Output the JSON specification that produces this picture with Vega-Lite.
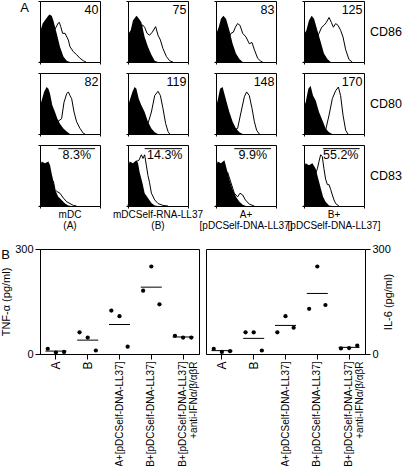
{
  "$schema": "https://vega.github.io/schema/vega-lite/v6.json",
  "padding": {"left": 0, "top": 0, "right": 0, "bottom": 0},
  "config": {
    "font": "Liberation Sans",
    "view": {"stroke": "black", "strokeWidth": 1},
    "axis": {"domainColor": "black", "tickColor": "black", "labelColor": "black", "titleColor": "black", "grid": false},
    "header": {"labelColor": "black", "titleColor": "black"}
  },
  "datasets": {
    "hist": [
      {"m":"CD86","c":"mDC\n(A)","s":"ctrl","x":0,"y":49},{"m":"CD86","c":"mDC\n(A)","s":"ctrl","x":0.18,"y":63},{"m":"CD86","c":"mDC\n(A)","s":"ctrl","x":0.4,"y":71},{"m":"CD86","c":"mDC\n(A)","s":"ctrl","x":0.62,"y":78},{"m":"CD86","c":"mDC\n(A)","s":"ctrl","x":0.78,"y":76},{"m":"CD86","c":"mDC\n(A)","s":"ctrl","x":0.89,"y":68},{"m":"CD86","c":"mDC\n(A)","s":"ctrl","x":1.11,"y":47},{"m":"CD86","c":"mDC\n(A)","s":"ctrl","x":1.33,"y":25},{"m":"CD86","c":"mDC\n(A)","s":"ctrl","x":1.56,"y":9},{"m":"CD86","c":"mDC\n(A)","s":"ctrl","x":1.78,"y":2},{"m":"CD86","c":"mDC\n(A)","s":"ctrl","x":2,"y":0},
      {"m":"CD86","c":"mDC\n(A)","s":"stain","x":0,"y":0},{"m":"CD86","c":"mDC\n(A)","s":"stain","x":0.89,"y":49},{"m":"CD86","c":"mDC\n(A)","s":"stain","x":1.22,"y":64},{"m":"CD86","c":"mDC\n(A)","s":"stain","x":1.29,"y":65},{"m":"CD86","c":"mDC\n(A)","s":"stain","x":1.38,"y":58},{"m":"CD86","c":"mDC\n(A)","s":"stain","x":1.51,"y":47},{"m":"CD86","c":"mDC\n(A)","s":"stain","x":1.67,"y":47},{"m":"CD86","c":"mDC\n(A)","s":"stain","x":1.89,"y":36},{"m":"CD86","c":"mDC\n(A)","s":"stain","x":2.0,"y":25},{"m":"CD86","c":"mDC\n(A)","s":"stain","x":2.22,"y":17},{"m":"CD86","c":"mDC\n(A)","s":"stain","x":2.44,"y":12},{"m":"CD86","c":"mDC\n(A)","s":"stain","x":2.67,"y":6},{"m":"CD86","c":"mDC\n(A)","s":"stain","x":2.89,"y":2},{"m":"CD86","c":"mDC\n(A)","s":"stain","x":3.07,"y":0},
      {"m":"CD86","c":"mDC\n(A)","s":"mfi","t":"40"},

      {"m":"CD86","c":"mDCSelf-RNA-LL37\n(B)","s":"ctrl","x":0,"y":45},{"m":"CD86","c":"mDCSelf-RNA-LL37\n(B)","s":"ctrl","x":0.18,"y":52},{"m":"CD86","c":"mDCSelf-RNA-LL37\n(B)","s":"ctrl","x":0.33,"y":68},{"m":"CD86","c":"mDCSelf-RNA-LL37\n(B)","s":"ctrl","x":0.56,"y":76},{"m":"CD86","c":"mDCSelf-RNA-LL37\n(B)","s":"ctrl","x":0.67,"y":73},{"m":"CD86","c":"mDCSelf-RNA-LL37\n(B)","s":"ctrl","x":0.89,"y":65},{"m":"CD86","c":"mDCSelf-RNA-LL37\n(B)","s":"ctrl","x":1.11,"y":41},{"m":"CD86","c":"mDCSelf-RNA-LL37\n(B)","s":"ctrl","x":1.33,"y":25},{"m":"CD86","c":"mDCSelf-RNA-LL37\n(B)","s":"ctrl","x":1.56,"y":12},{"m":"CD86","c":"mDCSelf-RNA-LL37\n(B)","s":"ctrl","x":1.78,"y":2},{"m":"CD86","c":"mDCSelf-RNA-LL37\n(B)","s":"ctrl","x":2.0,"y":0},
      {"m":"CD86","c":"mDCSelf-RNA-LL37\n(B)","s":"stain","x":0,"y":0},{"m":"CD86","c":"mDCSelf-RNA-LL37\n(B)","s":"stain","x":0.89,"y":55},{"m":"CD86","c":"mDCSelf-RNA-LL37\n(B)","s":"stain","x":0.96,"y":61},{"m":"CD86","c":"mDCSelf-RNA-LL37\n(B)","s":"stain","x":1.11,"y":57},{"m":"CD86","c":"mDCSelf-RNA-LL37\n(B)","s":"stain","x":1.27,"y":47},{"m":"CD86","c":"mDCSelf-RNA-LL37\n(B)","s":"stain","x":1.44,"y":44},{"m":"CD86","c":"mDCSelf-RNA-LL37\n(B)","s":"stain","x":1.62,"y":49},{"m":"CD86","c":"mDCSelf-RNA-LL37\n(B)","s":"stain","x":1.84,"y":58},{"m":"CD86","c":"mDCSelf-RNA-LL37\n(B)","s":"stain","x":2.0,"y":44},{"m":"CD86","c":"mDCSelf-RNA-LL37\n(B)","s":"stain","x":2.16,"y":36},{"m":"CD86","c":"mDCSelf-RNA-LL37\n(B)","s":"stain","x":2.33,"y":22},{"m":"CD86","c":"mDCSelf-RNA-LL37\n(B)","s":"stain","x":2.56,"y":9},{"m":"CD86","c":"mDCSelf-RNA-LL37\n(B)","s":"stain","x":2.78,"y":2},{"m":"CD86","c":"mDCSelf-RNA-LL37\n(B)","s":"stain","x":3.0,"y":0},
      {"m":"CD86","c":"mDCSelf-RNA-LL37\n(B)","s":"mfi","t":"75"},

      {"m":"CD86","c":"A+\n[pDCSelf-DNA-LL37]","s":"ctrl","x":0,"y":45},{"m":"CD86","c":"A+\n[pDCSelf-DNA-LL37]","s":"ctrl","x":0.18,"y":57},{"m":"CD86","c":"A+\n[pDCSelf-DNA-LL37]","s":"ctrl","x":0.33,"y":71},{"m":"CD86","c":"A+\n[pDCSelf-DNA-LL37]","s":"ctrl","x":0.49,"y":76},{"m":"CD86","c":"A+\n[pDCSelf-DNA-LL37]","s":"ctrl","x":0.67,"y":71},{"m":"CD86","c":"A+\n[pDCSelf-DNA-LL37]","s":"ctrl","x":0.89,"y":52},{"m":"CD86","c":"A+\n[pDCSelf-DNA-LL37]","s":"ctrl","x":1.11,"y":30},{"m":"CD86","c":"A+\n[pDCSelf-DNA-LL37]","s":"ctrl","x":1.33,"y":14},{"m":"CD86","c":"A+\n[pDCSelf-DNA-LL37]","s":"ctrl","x":1.56,"y":5},{"m":"CD86","c":"A+\n[pDCSelf-DNA-LL37]","s":"ctrl","x":1.78,"y":0},
      {"m":"CD86","c":"A+\n[pDCSelf-DNA-LL37]","s":"stain","x":0,"y":0},{"m":"CD86","c":"A+\n[pDCSelf-DNA-LL37]","s":"stain","x":1.0,"y":47},{"m":"CD86","c":"A+\n[pDCSelf-DNA-LL37]","s":"stain","x":1.16,"y":49},{"m":"CD86","c":"A+\n[pDCSelf-DNA-LL37]","s":"stain","x":1.29,"y":57},{"m":"CD86","c":"A+\n[pDCSelf-DNA-LL37]","s":"stain","x":1.44,"y":63},{"m":"CD86","c":"A+\n[pDCSelf-DNA-LL37]","s":"stain","x":1.6,"y":60},{"m":"CD86","c":"A+\n[pDCSelf-DNA-LL37]","s":"stain","x":1.78,"y":47},{"m":"CD86","c":"A+\n[pDCSelf-DNA-LL37]","s":"stain","x":2.0,"y":41},{"m":"CD86","c":"A+\n[pDCSelf-DNA-LL37]","s":"stain","x":2.22,"y":30},{"m":"CD86","c":"A+\n[pDCSelf-DNA-LL37]","s":"stain","x":2.4,"y":32},{"m":"CD86","c":"A+\n[pDCSelf-DNA-LL37]","s":"stain","x":2.56,"y":20},{"m":"CD86","c":"A+\n[pDCSelf-DNA-LL37]","s":"stain","x":2.78,"y":6},{"m":"CD86","c":"A+\n[pDCSelf-DNA-LL37]","s":"stain","x":3.0,"y":1},{"m":"CD86","c":"A+\n[pDCSelf-DNA-LL37]","s":"stain","x":3.11,"y":0},
      {"m":"CD86","c":"A+\n[pDCSelf-DNA-LL37]","s":"mfi","t":"83"},

      {"m":"CD86","c":"B+\n[pDCSelf-DNA-LL37]","s":"ctrl","x":0,"y":45},{"m":"CD86","c":"B+\n[pDCSelf-DNA-LL37]","s":"ctrl","x":0.16,"y":52},{"m":"CD86","c":"B+\n[pDCSelf-DNA-LL37]","s":"ctrl","x":0.33,"y":68},{"m":"CD86","c":"B+\n[pDCSelf-DNA-LL37]","s":"ctrl","x":0.51,"y":76},{"m":"CD86","c":"B+\n[pDCSelf-DNA-LL37]","s":"ctrl","x":0.67,"y":71},{"m":"CD86","c":"B+\n[pDCSelf-DNA-LL37]","s":"ctrl","x":0.89,"y":52},{"m":"CD86","c":"B+\n[pDCSelf-DNA-LL37]","s":"ctrl","x":1.11,"y":33},{"m":"CD86","c":"B+\n[pDCSelf-DNA-LL37]","s":"ctrl","x":1.33,"y":14},{"m":"CD86","c":"B+\n[pDCSelf-DNA-LL37]","s":"ctrl","x":1.56,"y":5},{"m":"CD86","c":"B+\n[pDCSelf-DNA-LL37]","s":"ctrl","x":1.78,"y":0},
      {"m":"CD86","c":"B+\n[pDCSelf-DNA-LL37]","s":"stain","x":0,"y":0},{"m":"CD86","c":"B+\n[pDCSelf-DNA-LL37]","s":"stain","x":1.0,"y":47},{"m":"CD86","c":"B+\n[pDCSelf-DNA-LL37]","s":"stain","x":1.18,"y":57},{"m":"CD86","c":"B+\n[pDCSelf-DNA-LL37]","s":"stain","x":1.33,"y":60},{"m":"CD86","c":"B+\n[pDCSelf-DNA-LL37]","s":"stain","x":1.49,"y":65},{"m":"CD86","c":"B+\n[pDCSelf-DNA-LL37]","s":"stain","x":1.67,"y":73},{"m":"CD86","c":"B+\n[pDCSelf-DNA-LL37]","s":"stain","x":1.82,"y":65},{"m":"CD86","c":"B+\n[pDCSelf-DNA-LL37]","s":"stain","x":1.96,"y":57},{"m":"CD86","c":"B+\n[pDCSelf-DNA-LL37]","s":"stain","x":2.11,"y":63},{"m":"CD86","c":"B+\n[pDCSelf-DNA-LL37]","s":"stain","x":2.27,"y":60},{"m":"CD86","c":"B+\n[pDCSelf-DNA-LL37]","s":"stain","x":2.44,"y":52},{"m":"CD86","c":"B+\n[pDCSelf-DNA-LL37]","s":"stain","x":2.6,"y":41},{"m":"CD86","c":"B+\n[pDCSelf-DNA-LL37]","s":"stain","x":2.78,"y":20},{"m":"CD86","c":"B+\n[pDCSelf-DNA-LL37]","s":"stain","x":3.0,"y":4},{"m":"CD86","c":"B+\n[pDCSelf-DNA-LL37]","s":"stain","x":3.22,"y":0},
      {"m":"CD86","c":"B+\n[pDCSelf-DNA-LL37]","s":"mfi","t":"125"},

      {"m":"CD80","c":"mDC\n(A)","s":"ctrl","x":0,"y":45},{"m":"CD80","c":"mDC\n(A)","s":"ctrl","x":0.11,"y":55},{"m":"CD80","c":"mDC\n(A)","s":"ctrl","x":0.27,"y":69},{"m":"CD80","c":"mDC\n(A)","s":"ctrl","x":0.44,"y":77},{"m":"CD80","c":"mDC\n(A)","s":"ctrl","x":0.56,"y":74},{"m":"CD80","c":"mDC\n(A)","s":"ctrl","x":0.67,"y":66},{"m":"CD80","c":"mDC\n(A)","s":"ctrl","x":0.82,"y":47},{"m":"CD80","c":"mDC\n(A)","s":"ctrl","x":1.0,"y":36},{"m":"CD80","c":"mDC\n(A)","s":"ctrl","x":1.16,"y":25},{"m":"CD80","c":"mDC\n(A)","s":"ctrl","x":1.33,"y":17},{"m":"CD80","c":"mDC\n(A)","s":"ctrl","x":1.56,"y":9},{"m":"CD80","c":"mDC\n(A)","s":"ctrl","x":1.78,"y":4},{"m":"CD80","c":"mDC\n(A)","s":"ctrl","x":2.0,"y":0},
      {"m":"CD80","c":"mDC\n(A)","s":"stain","x":0,"y":0},{"m":"CD80","c":"mDC\n(A)","s":"stain","x":1.44,"y":25},{"m":"CD80","c":"mDC\n(A)","s":"stain","x":1.6,"y":52},{"m":"CD80","c":"mDC\n(A)","s":"stain","x":1.78,"y":66},{"m":"CD80","c":"mDC\n(A)","s":"stain","x":1.89,"y":69},{"m":"CD80","c":"mDC\n(A)","s":"stain","x":2.0,"y":63},{"m":"CD80","c":"mDC\n(A)","s":"stain","x":2.11,"y":58},{"m":"CD80","c":"mDC\n(A)","s":"stain","x":2.27,"y":36},{"m":"CD80","c":"mDC\n(A)","s":"stain","x":2.44,"y":20},{"m":"CD80","c":"mDC\n(A)","s":"stain","x":2.67,"y":9},{"m":"CD80","c":"mDC\n(A)","s":"stain","x":2.89,"y":1},{"m":"CD80","c":"mDC\n(A)","s":"stain","x":3.0,"y":0},
      {"m":"CD80","c":"mDC\n(A)","s":"mfi","t":"82"},

      {"m":"CD80","c":"mDCSelf-RNA-LL37\n(B)","s":"ctrl","x":0,"y":45},{"m":"CD80","c":"mDCSelf-RNA-LL37\n(B)","s":"ctrl","x":0.11,"y":55},{"m":"CD80","c":"mDCSelf-RNA-LL37\n(B)","s":"ctrl","x":0.29,"y":69},{"m":"CD80","c":"mDCSelf-RNA-LL37\n(B)","s":"ctrl","x":0.44,"y":77},{"m":"CD80","c":"mDCSelf-RNA-LL37\n(B)","s":"ctrl","x":0.56,"y":74},{"m":"CD80","c":"mDCSelf-RNA-LL37\n(B)","s":"ctrl","x":0.71,"y":58},{"m":"CD80","c":"mDCSelf-RNA-LL37\n(B)","s":"ctrl","x":0.89,"y":47},{"m":"CD80","c":"mDCSelf-RNA-LL37\n(B)","s":"ctrl","x":1.11,"y":36},{"m":"CD80","c":"mDCSelf-RNA-LL37\n(B)","s":"ctrl","x":1.33,"y":20},{"m":"CD80","c":"mDCSelf-RNA-LL37\n(B)","s":"ctrl","x":1.56,"y":9},{"m":"CD80","c":"mDCSelf-RNA-LL37\n(B)","s":"ctrl","x":1.78,"y":3},{"m":"CD80","c":"mDCSelf-RNA-LL37\n(B)","s":"ctrl","x":2.0,"y":0},
      {"m":"CD80","c":"mDCSelf-RNA-LL37\n(B)","s":"stain","x":0,"y":0},{"m":"CD80","c":"mDCSelf-RNA-LL37\n(B)","s":"stain","x":1.33,"y":17},{"m":"CD80","c":"mDCSelf-RNA-LL37\n(B)","s":"stain","x":1.56,"y":36},{"m":"CD80","c":"mDCSelf-RNA-LL37\n(B)","s":"stain","x":1.78,"y":63},{"m":"CD80","c":"mDCSelf-RNA-LL37\n(B)","s":"stain","x":2.0,"y":70},{"m":"CD80","c":"mDCSelf-RNA-LL37\n(B)","s":"stain","x":2.16,"y":63},{"m":"CD80","c":"mDCSelf-RNA-LL37\n(B)","s":"stain","x":2.33,"y":42},{"m":"CD80","c":"mDCSelf-RNA-LL37\n(B)","s":"stain","x":2.51,"y":17},{"m":"CD80","c":"mDCSelf-RNA-LL37\n(B)","s":"stain","x":2.67,"y":4},{"m":"CD80","c":"mDCSelf-RNA-LL37\n(B)","s":"stain","x":2.78,"y":0},
      {"m":"CD80","c":"mDCSelf-RNA-LL37\n(B)","s":"mfi","t":"119"},

      {"m":"CD80","c":"A+\n[pDCSelf-DNA-LL37]","s":"ctrl","x":0,"y":45},{"m":"CD80","c":"A+\n[pDCSelf-DNA-LL37]","s":"ctrl","x":0.11,"y":55},{"m":"CD80","c":"A+\n[pDCSelf-DNA-LL37]","s":"ctrl","x":0.27,"y":74},{"m":"CD80","c":"A+\n[pDCSelf-DNA-LL37]","s":"ctrl","x":0.44,"y":77},{"m":"CD80","c":"A+\n[pDCSelf-DNA-LL37]","s":"ctrl","x":0.56,"y":66},{"m":"CD80","c":"A+\n[pDCSelf-DNA-LL37]","s":"ctrl","x":0.71,"y":52},{"m":"CD80","c":"A+\n[pDCSelf-DNA-LL37]","s":"ctrl","x":0.89,"y":36},{"m":"CD80","c":"A+\n[pDCSelf-DNA-LL37]","s":"ctrl","x":1.11,"y":20},{"m":"CD80","c":"A+\n[pDCSelf-DNA-LL37]","s":"ctrl","x":1.33,"y":9},{"m":"CD80","c":"A+\n[pDCSelf-DNA-LL37]","s":"ctrl","x":1.56,"y":3},{"m":"CD80","c":"A+\n[pDCSelf-DNA-LL37]","s":"ctrl","x":1.78,"y":0},
      {"m":"CD80","c":"A+\n[pDCSelf-DNA-LL37]","s":"stain","x":0,"y":0},{"m":"CD80","c":"A+\n[pDCSelf-DNA-LL37]","s":"stain","x":1.44,"y":9},{"m":"CD80","c":"A+\n[pDCSelf-DNA-LL37]","s":"stain","x":1.67,"y":36},{"m":"CD80","c":"A+\n[pDCSelf-DNA-LL37]","s":"stain","x":1.89,"y":61},{"m":"CD80","c":"A+\n[pDCSelf-DNA-LL37]","s":"stain","x":2.04,"y":69},{"m":"CD80","c":"A+\n[pDCSelf-DNA-LL37]","s":"stain","x":2.22,"y":63},{"m":"CD80","c":"A+\n[pDCSelf-DNA-LL37]","s":"stain","x":2.4,"y":42},{"m":"CD80","c":"A+\n[pDCSelf-DNA-LL37]","s":"stain","x":2.56,"y":20},{"m":"CD80","c":"A+\n[pDCSelf-DNA-LL37]","s":"stain","x":2.71,"y":6},{"m":"CD80","c":"A+\n[pDCSelf-DNA-LL37]","s":"stain","x":2.89,"y":0},
      {"m":"CD80","c":"A+\n[pDCSelf-DNA-LL37]","s":"mfi","t":"148"},

      {"m":"CD80","c":"B+\n[pDCSelf-DNA-LL37]","s":"ctrl","x":0,"y":45},{"m":"CD80","c":"B+\n[pDCSelf-DNA-LL37]","s":"ctrl","x":0.11,"y":52},{"m":"CD80","c":"B+\n[pDCSelf-DNA-LL37]","s":"ctrl","x":0.29,"y":74},{"m":"CD80","c":"B+\n[pDCSelf-DNA-LL37]","s":"ctrl","x":0.44,"y":79},{"m":"CD80","c":"B+\n[pDCSelf-DNA-LL37]","s":"ctrl","x":0.6,"y":63},{"m":"CD80","c":"B+\n[pDCSelf-DNA-LL37]","s":"ctrl","x":0.78,"y":55},{"m":"CD80","c":"B+\n[pDCSelf-DNA-LL37]","s":"ctrl","x":1.0,"y":36},{"m":"CD80","c":"B+\n[pDCSelf-DNA-LL37]","s":"ctrl","x":1.22,"y":23},{"m":"CD80","c":"B+\n[pDCSelf-DNA-LL37]","s":"ctrl","x":1.44,"y":9},{"m":"CD80","c":"B+\n[pDCSelf-DNA-LL37]","s":"ctrl","x":1.67,"y":3},{"m":"CD80","c":"B+\n[pDCSelf-DNA-LL37]","s":"ctrl","x":1.89,"y":0},
      {"m":"CD80","c":"B+\n[pDCSelf-DNA-LL37]","s":"stain","x":0,"y":0},{"m":"CD80","c":"B+\n[pDCSelf-DNA-LL37]","s":"stain","x":1.44,"y":6},{"m":"CD80","c":"B+\n[pDCSelf-DNA-LL37]","s":"stain","x":1.67,"y":31},{"m":"CD80","c":"B+\n[pDCSelf-DNA-LL37]","s":"stain","x":1.89,"y":58},{"m":"CD80","c":"B+\n[pDCSelf-DNA-LL37]","s":"stain","x":2.11,"y":71},{"m":"CD80","c":"B+\n[pDCSelf-DNA-LL37]","s":"stain","x":2.29,"y":77},{"m":"CD80","c":"B+\n[pDCSelf-DNA-LL37]","s":"stain","x":2.44,"y":63},{"m":"CD80","c":"B+\n[pDCSelf-DNA-LL37]","s":"stain","x":2.6,"y":31},{"m":"CD80","c":"B+\n[pDCSelf-DNA-LL37]","s":"stain","x":2.78,"y":6},{"m":"CD80","c":"B+\n[pDCSelf-DNA-LL37]","s":"stain","x":2.93,"y":0},
      {"m":"CD80","c":"B+\n[pDCSelf-DNA-LL37]","s":"mfi","t":"170"},

      {"m":"CD83","c":"mDC\n(A)","s":"ctrl","x":0,"y":64},{"m":"CD83","c":"mDC\n(A)","s":"ctrl","x":0.11,"y":73},{"m":"CD83","c":"mDC\n(A)","s":"ctrl","x":0.33,"y":70},{"m":"CD83","c":"mDC\n(A)","s":"ctrl","x":0.56,"y":73},{"m":"CD83","c":"mDC\n(A)","s":"ctrl","x":0.67,"y":67},{"m":"CD83","c":"mDC\n(A)","s":"ctrl","x":0.78,"y":53},{"m":"CD83","c":"mDC\n(A)","s":"ctrl","x":0.89,"y":41},{"m":"CD83","c":"mDC\n(A)","s":"ctrl","x":1.0,"y":27},{"m":"CD83","c":"mDC\n(A)","s":"ctrl","x":1.11,"y":21},{"m":"CD83","c":"mDC\n(A)","s":"ctrl","x":1.22,"y":15},{"m":"CD83","c":"mDC\n(A)","s":"ctrl","x":1.44,"y":10},{"m":"CD83","c":"mDC\n(A)","s":"ctrl","x":1.67,"y":4},{"m":"CD83","c":"mDC\n(A)","s":"ctrl","x":1.89,"y":1},{"m":"CD83","c":"mDC\n(A)","s":"ctrl","x":2.11,"y":0},
      {"m":"CD83","c":"mDC\n(A)","s":"stain","x":0,"y":0},{"m":"CD83","c":"mDC\n(A)","s":"stain","x":0.89,"y":41},{"m":"CD83","c":"mDC\n(A)","s":"stain","x":1.0,"y":27},{"m":"CD83","c":"mDC\n(A)","s":"stain","x":1.11,"y":24},{"m":"CD83","c":"mDC\n(A)","s":"stain","x":1.33,"y":21},{"m":"CD83","c":"mDC\n(A)","s":"stain","x":1.56,"y":13},{"m":"CD83","c":"mDC\n(A)","s":"stain","x":1.78,"y":7},{"m":"CD83","c":"mDC\n(A)","s":"stain","x":2.0,"y":4},{"m":"CD83","c":"mDC\n(A)","s":"stain","x":2.22,"y":1},{"m":"CD83","c":"mDC\n(A)","s":"stain","x":2.44,"y":0},
      {"m":"CD83","c":"mDC\n(A)","s":"gate","x":1.22,"x2":3.67,"t":"8.3%"},

      {"m":"CD83","c":"mDCSelf-RNA-LL37\n(B)","s":"ctrl","x":0,"y":64},{"m":"CD83","c":"mDCSelf-RNA-LL37\n(B)","s":"ctrl","x":0.11,"y":73},{"m":"CD83","c":"mDCSelf-RNA-LL37\n(B)","s":"ctrl","x":0.33,"y":70},{"m":"CD83","c":"mDCSelf-RNA-LL37\n(B)","s":"ctrl","x":0.56,"y":75},{"m":"CD83","c":"mDCSelf-RNA-LL37\n(B)","s":"ctrl","x":0.67,"y":70},{"m":"CD83","c":"mDCSelf-RNA-LL37\n(B)","s":"ctrl","x":0.78,"y":55},{"m":"CD83","c":"mDCSelf-RNA-LL37\n(B)","s":"ctrl","x":0.96,"y":38},{"m":"CD83","c":"mDCSelf-RNA-LL37\n(B)","s":"ctrl","x":1.11,"y":21},{"m":"CD83","c":"mDCSelf-RNA-LL37\n(B)","s":"ctrl","x":1.33,"y":13},{"m":"CD83","c":"mDCSelf-RNA-LL37\n(B)","s":"ctrl","x":1.56,"y":5},{"m":"CD83","c":"mDCSelf-RNA-LL37\n(B)","s":"ctrl","x":1.78,"y":1},{"m":"CD83","c":"mDCSelf-RNA-LL37\n(B)","s":"ctrl","x":2.0,"y":0},
      {"m":"CD83","c":"mDCSelf-RNA-LL37\n(B)","s":"stain","x":0,"y":0},{"m":"CD83","c":"mDCSelf-RNA-LL37\n(B)","s":"stain","x":0.56,"y":73},{"m":"CD83","c":"mDCSelf-RNA-LL37\n(B)","s":"stain","x":0.73,"y":75},{"m":"CD83","c":"mDCSelf-RNA-LL37\n(B)","s":"stain","x":0.89,"y":84},{"m":"CD83","c":"mDCSelf-RNA-LL37\n(B)","s":"stain","x":1.0,"y":78},{"m":"CD83","c":"mDCSelf-RNA-LL37\n(B)","s":"stain","x":1.11,"y":84},{"m":"CD83","c":"mDCSelf-RNA-LL37\n(B)","s":"stain","x":1.22,"y":67},{"m":"CD83","c":"mDCSelf-RNA-LL37\n(B)","s":"stain","x":1.33,"y":50},{"m":"CD83","c":"mDCSelf-RNA-LL37\n(B)","s":"stain","x":1.44,"y":38},{"m":"CD83","c":"mDCSelf-RNA-LL37\n(B)","s":"stain","x":1.56,"y":21},{"m":"CD83","c":"mDCSelf-RNA-LL37\n(B)","s":"stain","x":1.78,"y":10},{"m":"CD83","c":"mDCSelf-RNA-LL37\n(B)","s":"stain","x":2.0,"y":4},{"m":"CD83","c":"mDCSelf-RNA-LL37\n(B)","s":"stain","x":2.33,"y":1},{"m":"CD83","c":"mDCSelf-RNA-LL37\n(B)","s":"stain","x":2.67,"y":0},
      {"m":"CD83","c":"mDCSelf-RNA-LL37\n(B)","s":"gate","x":1.11,"x2":3.6,"t":"14.3%"},

      {"m":"CD83","c":"A+\n[pDCSelf-DNA-LL37]","s":"ctrl","x":0,"y":64},{"m":"CD83","c":"A+\n[pDCSelf-DNA-LL37]","s":"ctrl","x":0.11,"y":73},{"m":"CD83","c":"A+\n[pDCSelf-DNA-LL37]","s":"ctrl","x":0.33,"y":70},{"m":"CD83","c":"A+\n[pDCSelf-DNA-LL37]","s":"ctrl","x":0.56,"y":75},{"m":"CD83","c":"A+\n[pDCSelf-DNA-LL37]","s":"ctrl","x":0.71,"y":61},{"m":"CD83","c":"A+\n[pDCSelf-DNA-LL37]","s":"ctrl","x":0.89,"y":44},{"m":"CD83","c":"A+\n[pDCSelf-DNA-LL37]","s":"ctrl","x":1.11,"y":27},{"m":"CD83","c":"A+\n[pDCSelf-DNA-LL37]","s":"ctrl","x":1.33,"y":15},{"m":"CD83","c":"A+\n[pDCSelf-DNA-LL37]","s":"ctrl","x":1.56,"y":7},{"m":"CD83","c":"A+\n[pDCSelf-DNA-LL37]","s":"ctrl","x":1.78,"y":2},{"m":"CD83","c":"A+\n[pDCSelf-DNA-LL37]","s":"ctrl","x":2.0,"y":0},
      {"m":"CD83","c":"A+\n[pDCSelf-DNA-LL37]","s":"stain","x":0,"y":0},{"m":"CD83","c":"A+\n[pDCSelf-DNA-LL37]","s":"stain","x":0.78,"y":55},{"m":"CD83","c":"A+\n[pDCSelf-DNA-LL37]","s":"stain","x":1.0,"y":38},{"m":"CD83","c":"A+\n[pDCSelf-DNA-LL37]","s":"stain","x":1.22,"y":21},{"m":"CD83","c":"A+\n[pDCSelf-DNA-LL37]","s":"stain","x":1.44,"y":15},{"m":"CD83","c":"A+\n[pDCSelf-DNA-LL37]","s":"stain","x":1.6,"y":21},{"m":"CD83","c":"A+\n[pDCSelf-DNA-LL37]","s":"stain","x":1.78,"y":18},{"m":"CD83","c":"A+\n[pDCSelf-DNA-LL37]","s":"stain","x":1.96,"y":10},{"m":"CD83","c":"A+\n[pDCSelf-DNA-LL37]","s":"stain","x":2.22,"y":3},{"m":"CD83","c":"A+\n[pDCSelf-DNA-LL37]","s":"stain","x":2.56,"y":0},
      {"m":"CD83","c":"A+\n[pDCSelf-DNA-LL37]","s":"gate","x":1.22,"x2":3.67,"t":"9.9%"},

      {"m":"CD83","c":"B+\n[pDCSelf-DNA-LL37]","s":"ctrl","x":0,"y":64},{"m":"CD83","c":"B+\n[pDCSelf-DNA-LL37]","s":"ctrl","x":0.11,"y":70},{"m":"CD83","c":"B+\n[pDCSelf-DNA-LL37]","s":"ctrl","x":0.33,"y":67},{"m":"CD83","c":"B+\n[pDCSelf-DNA-LL37]","s":"ctrl","x":0.56,"y":70},{"m":"CD83","c":"B+\n[pDCSelf-DNA-LL37]","s":"ctrl","x":0.78,"y":61},{"m":"CD83","c":"B+\n[pDCSelf-DNA-LL37]","s":"ctrl","x":0.96,"y":44},{"m":"CD83","c":"B+\n[pDCSelf-DNA-LL37]","s":"ctrl","x":1.11,"y":30},{"m":"CD83","c":"B+\n[pDCSelf-DNA-LL37]","s":"ctrl","x":1.27,"y":15},{"m":"CD83","c":"B+\n[pDCSelf-DNA-LL37]","s":"ctrl","x":1.44,"y":7},{"m":"CD83","c":"B+\n[pDCSelf-DNA-LL37]","s":"ctrl","x":1.67,"y":1},{"m":"CD83","c":"B+\n[pDCSelf-DNA-LL37]","s":"ctrl","x":1.89,"y":0},
      {"m":"CD83","c":"B+\n[pDCSelf-DNA-LL37]","s":"stain","x":0,"y":0},{"m":"CD83","c":"B+\n[pDCSelf-DNA-LL37]","s":"stain","x":0.89,"y":61},{"m":"CD83","c":"B+\n[pDCSelf-DNA-LL37]","s":"stain","x":1.0,"y":73},{"m":"CD83","c":"B+\n[pDCSelf-DNA-LL37]","s":"stain","x":1.11,"y":84},{"m":"CD83","c":"B+\n[pDCSelf-DNA-LL37]","s":"stain","x":1.22,"y":81},{"m":"CD83","c":"B+\n[pDCSelf-DNA-LL37]","s":"stain","x":1.33,"y":61},{"m":"CD83","c":"B+\n[pDCSelf-DNA-LL37]","s":"stain","x":1.44,"y":44},{"m":"CD83","c":"B+\n[pDCSelf-DNA-LL37]","s":"stain","x":1.56,"y":35},{"m":"CD83","c":"B+\n[pDCSelf-DNA-LL37]","s":"stain","x":1.67,"y":35},{"m":"CD83","c":"B+\n[pDCSelf-DNA-LL37]","s":"stain","x":1.78,"y":27},{"m":"CD83","c":"B+\n[pDCSelf-DNA-LL37]","s":"stain","x":1.89,"y":18},{"m":"CD83","c":"B+\n[pDCSelf-DNA-LL37]","s":"stain","x":2.0,"y":10},{"m":"CD83","c":"B+\n[pDCSelf-DNA-LL37]","s":"stain","x":2.11,"y":4},{"m":"CD83","c":"B+\n[pDCSelf-DNA-LL37]","s":"stain","x":2.33,"y":0},
      {"m":"CD83","c":"B+\n[pDCSelf-DNA-LL37]","s":"gate","x":1.27,"x2":3.71,"t":"55.2%"}
    ],
    "cyto": [
      {"cyt":"TNF","g":"A","rep":"1","v":15},{"cyt":"TNF","g":"A","rep":"2","v":4},{"cyt":"TNF","g":"A","rep":"3","v":6},
      {"cyt":"TNF","g":"B","rep":"1","v":62},{"cyt":"TNF","g":"B","rep":"2","v":47},{"cyt":"TNF","g":"B","rep":"3","v":10},
      {"cyt":"TNF","g":"A+[pDCSelf-DNA-LL37]","rep":"1","v":124},{"cyt":"TNF","g":"A+[pDCSelf-DNA-LL37]","rep":"2","v":108},{"cyt":"TNF","g":"A+[pDCSelf-DNA-LL37]","rep":"3","v":21},
      {"cyt":"TNF","g":"B+[pDCSelf-DNA-LL37]","rep":"1","v":181},{"cyt":"TNF","g":"B+[pDCSelf-DNA-LL37]","rep":"2","v":250},{"cyt":"TNF","g":"B+[pDCSelf-DNA-LL37]","rep":"3","v":142},
      {"cyt":"TNF","g":"B+[pDCSelf-DNA-LL37]\n+anti-IFNα/β/αβR","rep":"1","v":52},{"cyt":"TNF","g":"B+[pDCSelf-DNA-LL37]\n+anti-IFNα/β/αβR","rep":"2","v":47},{"cyt":"TNF","g":"B+[pDCSelf-DNA-LL37]\n+anti-IFNα/β/αβR","rep":"3","v":47},
      {"cyt":"IL6","g":"A","rep":"1","v":15},{"cyt":"IL6","g":"A","rep":"2","v":6},{"cyt":"IL6","g":"A","rep":"3","v":8},
      {"cyt":"IL6","g":"B","rep":"1","v":62},{"cyt":"IL6","g":"B","rep":"2","v":62},{"cyt":"IL6","g":"B","rep":"3","v":10},
      {"cyt":"IL6","g":"A+[pDCSelf-DNA-LL37]","rep":"1","v":62},{"cyt":"IL6","g":"A+[pDCSelf-DNA-LL37]","rep":"2","v":108},{"cyt":"IL6","g":"A+[pDCSelf-DNA-LL37]","rep":"3","v":75},
      {"cyt":"IL6","g":"B+[pDCSelf-DNA-LL37]","rep":"1","v":129},{"cyt":"IL6","g":"B+[pDCSelf-DNA-LL37]","rep":"2","v":250},{"cyt":"IL6","g":"B+[pDCSelf-DNA-LL37]","rep":"3","v":140},
      {"cyt":"IL6","g":"B+[pDCSelf-DNA-LL37]\n+anti-IFNα/β/αβR","rep":"1","v":16},{"cyt":"IL6","g":"B+[pDCSelf-DNA-LL37]\n+anti-IFNα/β/αβR","rep":"2","v":17},{"cyt":"IL6","g":"B+[pDCSelf-DNA-LL37]\n+anti-IFNα/β/αβR","rep":"3","v":24}
    ]
  },
  "vconcat": [
    {
      "data": {"name": "hist"},
      "title": {"text": "A", "orient": "left", "anchor": "end", "angle": 0, "align": "left", "baseline": "top", "fontSize": 13, "fontWeight": "normal", "offset": 8, "dy": 2},
      "bounds": "flush",
      "spacing": {"row": 11, "column": 28},
      "facet": {
        "row": {
          "field": "m", "type": "nominal", "sort": ["CD86", "CD80", "CD83"], "title": null,
          "header": {"labelOrient": "right", "labelAngle": 0, "labelFontSize": 12.5, "labelPadding": 6}
        },
        "column": {
          "field": "c", "type": "nominal", "title": null,
          "sort": ["mDC\n(A)", "mDCSelf-RNA-LL37\n(B)", "A+\n[pDCSelf-DNA-LL37]", "B+\n[pDCSelf-DNA-LL37]"],
          "header": {"labelOrient": "bottom", "labelExpr": "split(datum.label, '\\n')", "labelFontSize": 10, "labelLineHeight": 11, "labelPadding": 4}
        }
      },
      "resolve": {"axis": {"x": "independent", "y": "independent"}},
      "spec": {
        "width": 60,
        "height": 61,
        "layer": [
          {
            "transform": [{"filter": "datum.s == 'ctrl'"}],
            "mark": {"type": "area", "color": "black"},
            "encoding": {
              "x": {"field": "x", "type": "quantitative", "scale": {"domain": [0, 4], "nice": false},
                    "axis": {"title": null, "labels": false, "domain": false, "tickSize": 2,
                             "values": [0,0.301,0.477,0.602,0.699,0.778,0.845,0.903,0.954,1,1.301,1.477,1.602,1.699,1.778,1.845,1.903,1.954,2,2.301,2.477,2.602,2.699,2.778,2.845,2.903,2.954,3,3.301,3.477,3.602,3.699,3.778,3.845,3.903,3.954,4]}},
              "y": {"field": "y", "type": "quantitative", "scale": {"domain": [0, 100], "nice": false},
                    "axis": {"title": null, "labels": false, "domain": false, "tickSize": 2, "values": [0,10,20,30,40,50,60,70,80,90,100]}}
            }
          },
          {
            "transform": [{"filter": "datum.s == 'stain'"}],
            "mark": {"type": "line", "color": "black", "strokeWidth": 1},
            "encoding": {
              "x": {"field": "x", "type": "quantitative"},
              "y": {"field": "y", "type": "quantitative"}
            }
          },
          {
            "transform": [{"filter": "datum.s == 'mfi'"}],
            "mark": {"type": "text", "align": "right", "baseline": "middle", "fontSize": 12.5, "color": "black"},
            "encoding": {
              "x": {"datum": 3.9, "type": "quantitative"},
              "y": {"datum": 86, "type": "quantitative"},
              "text": {"field": "t"}
            }
          },
          {
            "transform": [{"filter": "datum.s == 'gate'"}],
            "mark": {"type": "rule", "color": "black", "strokeWidth": 1},
            "encoding": {
              "x": {"field": "x", "type": "quantitative"},
              "x2": {"field": "x2"},
              "y": {"datum": 94, "type": "quantitative"}
            }
          },
          {
            "transform": [{"filter": "datum.s == 'gate'"}],
            "mark": {"type": "text", "align": "center", "baseline": "middle", "fontSize": 12.5, "color": "black"},
            "encoding": {
              "x": {"datum": 2.45, "type": "quantitative"},
              "y": {"datum": 83, "type": "quantitative"},
              "text": {"field": "t"}
            }
          }
        ]
      }
    },
    {
      "data": {"name": "cyto"},
      "spacing": 5,
      "hconcat": [
        {
          "width": 159,
          "height": 105,
          "title": {"text": "B", "orient": "left", "anchor": "end", "angle": 0, "align": "left", "baseline": "top", "fontSize": 13, "fontWeight": "normal", "offset": -9.3, "frame": "group", "dy": 0},
          "transform": [{"filter": "datum.cyt == 'TNF'"}],
          "encoding": {
            "x": {"field": "g", "type": "nominal",
                  "sort": ["A", "B", "A+[pDCSelf-DNA-LL37]", "B+[pDCSelf-DNA-LL37]", "B+[pDCSelf-DNA-LL37]\n+anti-IFNα/β/αβR"],
                  "scale": {"type": "band", "paddingInner": 0, "paddingOuter": 0},
                  "axis": {"title": null, "labelAngle": 270, "labelExpr": "split(datum.label, '\\n')", "labelLimit": 200,
                           "labelFontSize": {"condition": {"test": "length(datum.label) > 2", "value": 10}, "value": 12},
                           "labelLineHeight": 11, "tickSize": 5, "labelPadding": 2}}
          },
          "layer": [
            {
              "mark": {"type": "circle", "color": "black", "opacity": 1, "size": 18},
              "encoding": {
                "xOffset": {"field": "rep", "type": "nominal", "scale": {"paddingInner": 0, "paddingOuter": 0.95}},
                "y": {"field": "v", "type": "quantitative", "title": "TNF-α (pg/ml)", "scale": {"domain": [0, 300], "nice": false},
                      "axis": {"values": [0, 100, 200, 300], "tickSize": 5, "labelPadding": 2, "titlePadding": 3, "labelFontSize": 11, "titleFontSize": 11, "titleFontWeight": "normal"}}
              }
            },
            {
              "mark": {"type": "tick", "color": "black", "thickness": 1, "size": 21},
              "encoding": {
                "y": {"aggregate": "mean", "field": "v", "type": "quantitative", "title": "TNF-α (pg/ml)"}
              }
            }
          ]
        },
        {
          "width": 159,
          "height": 105,
          "transform": [{"filter": "datum.cyt == 'IL6'"}],
          "encoding": {
            "x": {"field": "g", "type": "nominal",
                  "sort": ["A", "B", "A+[pDCSelf-DNA-LL37]", "B+[pDCSelf-DNA-LL37]", "B+[pDCSelf-DNA-LL37]\n+anti-IFNα/β/αβR"],
                  "scale": {"type": "band", "paddingInner": 0, "paddingOuter": 0},
                  "axis": {"title": null, "labelAngle": 270, "labelExpr": "split(datum.label, '\\n')", "labelLimit": 200,
                           "labelFontSize": {"condition": {"test": "length(datum.label) > 2", "value": 10}, "value": 12},
                           "labelLineHeight": 11, "tickSize": 5, "labelPadding": 2}}
          },
          "layer": [
            {
              "mark": {"type": "circle", "color": "black", "opacity": 1, "size": 18},
              "encoding": {
                "xOffset": {"field": "rep", "type": "nominal", "scale": {"paddingInner": 0, "paddingOuter": 0.95}},
                "y": {"field": "v", "type": "quantitative", "title": "IL-6 (pg/ml)", "scale": {"domain": [0, 300], "nice": false},
                      "axis": {"orient": "right", "titleAngle": 270, "values": [0, 100, 200, 300], "tickSize": 5, "labelPadding": 2, "titlePadding": 3, "labelFontSize": 11, "titleFontSize": 11, "titleFontWeight": "normal"}}
              }
            },
            {
              "mark": {"type": "tick", "color": "black", "thickness": 1, "size": 21},
              "encoding": {
                "y": {"aggregate": "mean", "field": "v", "type": "quantitative", "title": "IL-6 (pg/ml)"}
              }
            }
          ]
        }
      ]
    }
  ],
  "spacing": 11
}
